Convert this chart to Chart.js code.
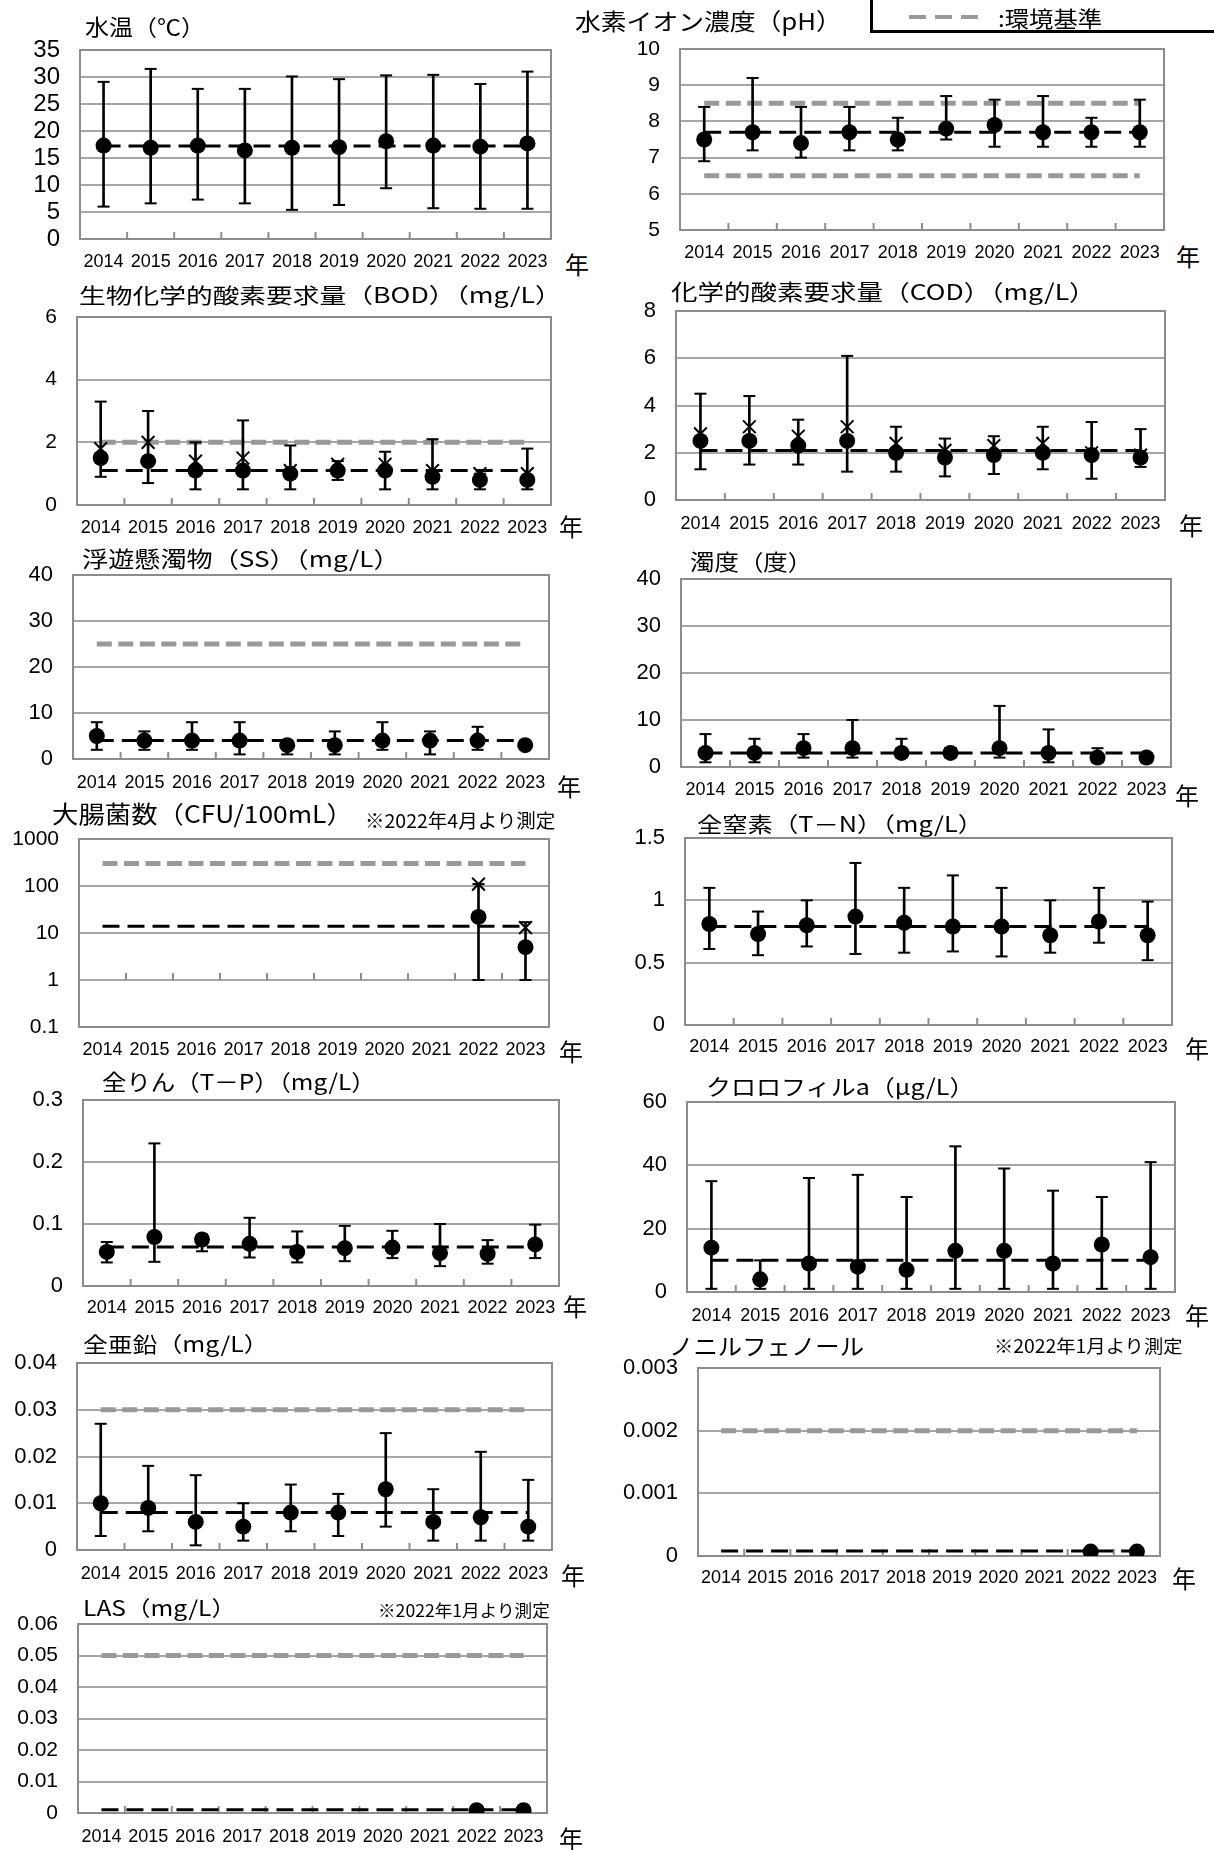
<!DOCTYPE html>
<html>
<head>
<meta charset="utf-8">
<script src="https://cdn.jsdelivr.net/npm/chart.js@4.4.1/dist/chart.umd.min.js"></script>
<style>
body { margin: 0; background: #fff; width: 1214px; height: 1850px; position: relative; overflow: hidden; font-family: "Noto Sans CJK JP", sans-serif; }
.t { position: absolute; white-space: nowrap; line-height: 1; color: #000; transform-origin: 0 50%; }
canvas { position: absolute; }
.legend { position: absolute; left: 870px; top: -36px; width: 360px; height: 69px; border: 3px solid #000; box-sizing: border-box; }
.dash { position: absolute; top: 15px; width: 17px; height: 4px; background: #999; }
</style>
</head>
<body>
<div class="legend"></div>
<div class="dash" style="left:909px"></div>
<div class="dash" style="left:935px"></div>
<div class="dash" style="left:961px"></div>
<script>
var years = ['2014', '2015', '2016', '2017', '2018', '2019', '2020', '2021', '2022', '2023'];

// 水温
var tempMean = [17.3, 16.9, 17.3, 16.4, 16.9, 17.0, 18.1, 17.3, 17.1, 17.7];
var tempMax = [29.1, 31.5, 27.8, 27.8, 30.1, 29.6, 30.3, 30.4, 28.7, 31.0];
var tempMin = [6.0, 6.6, 7.3, 6.6, 5.4, 6.3, 9.4, 5.7, 5.6, 5.6];
var tempAvg = 17.2;
var tempTicks = [0, 5, 10, 15, 20, 25, 30, 35];

// pH
var phMean = [7.5, 7.7, 7.4, 7.7, 7.5, 7.8, 7.9, 7.7, 7.7, 7.7];
var phMax = [8.4, 9.2, 8.4, 8.4, 8.1, 8.7, 8.6, 8.7, 8.1, 8.6];
var phMin = [6.9, 7.2, 7.0, 7.2, 7.2, 7.5, 7.3, 7.3, 7.3, 7.3];
var phAvg = 7.7;
var phStd = [8.5, 6.5];
var phTicks = [5, 6, 7, 8, 9, 10];

// BOD
var bodMean = [1.5, 1.4, 1.1, 1.1, 1.0, 1.1, 1.1, 0.9, 0.8, 0.8];
var bodMax = [3.3, 3.0, 2.0, 2.7, 1.9, 1.4, 1.7, 2.1, 1.0, 1.8];
var bodMin = [0.9, 0.7, 0.5, 0.5, 0.5, 0.8, 0.5, 0.5, 0.5, 0.5];
var bod75 = [1.8, 2.0, 1.4, 1.5, 1.1, 1.3, 1.3, 1.1, 1.0, 1.0];
var bodAvg = 1.1;
var bodStd = [2];
var bodTicks = [0, 2, 4, 6];

// COD
var codMean = [2.5, 2.5, 2.3, 2.5, 2.0, 1.8, 1.9, 2.0, 1.9, 1.8];
var codMax = [4.5, 4.4, 3.4, 6.1, 3.1, 2.6, 2.7, 3.1, 3.3, 3.0];
var codMin = [1.3, 1.5, 1.5, 1.2, 1.2, 1.0, 1.1, 1.3, 0.9, 1.4];
var cod75 = [2.8, 3.1, 2.7, 3.1, 2.4, 2.1, 2.3, 2.4, 2.0, 1.9];
var codAvg = 2.1;
var codTicks = [0, 2, 4, 6, 8];

// SS
var ssMean = [5, 4, 4, 4, 3, 3, 4, 4, 4, 3];
var ssMax = [8, 6, 8, 8, 4, 6, 8, 6, 7, 3];
var ssMin = [2, 2, 2, 1, 1, 1, 2, 1, 2, 3];
var ssAvg = 4;
var ssStd = [25];
var ssTicks = [0, 10, 20, 30, 40];

// 濁度
var turbMean = [3, 3, 4, 4, 3, 3, 4, 3, 2, 2];
var turbMax = [7, 6, 7, 10, 6, 4, 13, 8, 4, 3];
var turbMin = [1, 1, 2, 2, 2, 2, 2, 1, 1, 1];
var turbAvg = 3;
var turbTicks = [0, 10, 20, 30, 40];

// 大腸菌数
var ecoliMean = [null, null, null, null, null, null, null, null, 22, 5];
var ecoliMax = [null, null, null, null, null, null, null, null, 110, 17];
var ecoliMin = [null, null, null, null, null, null, null, null, 1, 1];
var ecoli75 = [null, null, null, null, null, null, null, null, 110, 13];
var ecoliAvg = 14;
var ecoliStd = [300];
var ecoliTicks = [0.1, 1, 10, 100, 1000];

// 全窒素
var tnMean = [0.81, 0.73, 0.80, 0.87, 0.82, 0.79, 0.79, 0.72, 0.83, 0.72];
var tnMax = [1.1, 0.91, 1.0, 1.3, 1.1, 1.2, 1.1, 1.0, 1.1, 0.99];
var tnMin = [0.61, 0.56, 0.63, 0.57, 0.58, 0.59, 0.55, 0.58, 0.66, 0.52];
var tnAvg = 0.79;
var tnTicks = [0, 0.5, 1, 1.5];

// 全りん
var tpMean = [0.055, 0.079, 0.075, 0.068, 0.055, 0.061, 0.062, 0.053, 0.052, 0.067];
var tpMax = [0.071, 0.23, 0.083, 0.11, 0.088, 0.097, 0.089, 0.10, 0.074, 0.099];
var tpMin = [0.038, 0.039, 0.056, 0.046, 0.038, 0.040, 0.045, 0.032, 0.036, 0.045];
var tpAvg = 0.063;
var tpTicks = [0, 0.1, 0.2, 0.3];

// クロロフィルa
var chlMean = [14, 4, 9, 8, 7, 13, 13, 9, 15, 11];
var chlMax = [35, 10, 36, 37, 30, 46, 39, 32, 30, 41];
var chlMin = [1, 1, 1, 1, 1, 1, 1, 1, 1, 1];
var chlAvg = 10;
var chlTicks = [0, 20, 40, 60];

// 全亜鉛
var znMean = [0.010, 0.009, 0.006, 0.005, 0.008, 0.008, 0.013, 0.006, 0.007, 0.005];
var znMax = [0.027, 0.018, 0.016, 0.010, 0.014, 0.012, 0.025, 0.013, 0.021, 0.015];
var znMin = [0.003, 0.004, 0.001, 0.002, 0.004, 0.003, 0.005, 0.002, 0.002, 0.002];
var znAvg = 0.008;
var znStd = [0.03];
var znTicks = [0, 0.01, 0.02, 0.03, 0.04];

// ノニルフェノール
var npMean = [null, null, null, null, null, null, null, null, 0.00007, 0.00007];
var npAvg = 0.00008;
var npStd = [0.002];
var npTicks = [0, 0.001, 0.002, 0.003];

// LAS
var lasMean = [null, null, null, null, null, null, null, null, 0.0009, 0.0009];
var lasAvg = 0.001;
var lasStd = [0.05];
var lasTicks = [0, 0.01, 0.02, 0.03, 0.04, 0.05, 0.06];

var LW = 95, TP = 40, RP = 10, BH = 45;
var numFont = 'Liberation Sans, Arial, sans-serif';

function fmt(v) {
    return String(parseFloat(Number(v).toPrecision(6)));
}

// gray frame around the plot and small ticks between the years
var framePlugin = {
    id: 'frame',
    beforeDatasetsDraw: function (chart, args, opts) {
        var a = chart.chartArea, ctx = chart.ctx, xs = chart.scales.x;
        ctx.save();
        ctx.strokeStyle = '#8c8c8c';
        ctx.lineWidth = 2;
        ctx.strokeRect(a.left, a.top, a.right - a.left, a.bottom - a.top);
        var ty = opts.tickAt != null ? chart.scales.y.getPixelForValue(opts.tickAt) : a.bottom;
        ctx.beginPath();
        for (var i = 1; i < years.length; i++) {
            var x = (xs.getPixelForValue(i - 1) + xs.getPixelForValue(i)) / 2;
            ctx.moveTo(x, ty);
            ctx.lineTo(x, ty - 7);
        }
        ctx.stroke();
        ctx.restore();
    }
};

// w = wanted ink width; a closing full-width bracket leaves empty space on its right
function text(s, x, y, size, w) {
    var d = document.createElement('div');
    d.className = 't';
    d.textContent = s;
    d.style.left = x + 'px';
    d.style.top = y + 'px';
    d.style.fontSize = size + 'px';
    document.body.appendChild(d);
    var tail = s.charAt(s.length - 1) === '）' ? size * 0.5 : 0;
    var k = w ? w / (d.offsetWidth - tail) : 1;
    d.style.transform = 'translateY(-50%) scaleX(' + k + ')';
}

function drawPanel(p) {
    var b = p.box;
    var cv = document.createElement('canvas');
    cv.width = b[2] - b[0] + LW + RP;
    cv.height = b[3] - b[1] + TP + BH;
    cv.style.left = (b[0] - LW) + 'px';
    cv.style.top = (b[1] - TP) + 'px';
    document.body.appendChild(cv);

    var datasets = [];
    datasets.push({ type: 'line', data: p.mean, showLine: false, pointRadius: 8,
        pointBackgroundColor: '#000', pointBorderWidth: 0, order: 1 });
    if (p.cross) {
        datasets.push({ type: 'line', data: p.cross, showLine: false, pointStyle: 'crossRot',
            pointRadius: 9, pointBorderColor: '#000', pointBorderWidth: 2, order: 2 });
    }
    if (p.max) {
        datasets.push({ type: 'line', data: p.max, showLine: false, pointStyle: 'line',
            pointRadius: 6, pointBorderColor: '#000', pointBorderWidth: 2, order: 3 });
        datasets.push({ type: 'line', data: p.min, showLine: false, pointStyle: 'line',
            pointRadius: 6, pointBorderColor: '#000', pointBorderWidth: 2, order: 3 });
        datasets.push({ type: 'bar', order: 4, backgroundColor: '#000', barThickness: 2,
            data: years.map(function (y, i) { return p.min[i] == null ? null : [p.min[i], p.max[i]]; }) });
    }
    datasets.push({ type: 'line', data: years.map(function () { return p.avg; }), borderColor: '#000',
        borderWidth: 3, borderDash: [17, 8], pointRadius: 0, order: 5 });
    (p.std || []).forEach(function (v) {
        datasets.push({ type: 'line', data: years.map(function () { return v; }), borderColor: '#999',
            borderWidth: 5, borderDash: [15, 6.5], pointRadius: 0, order: 6 });
    });

    var pad = { top: TP, right: RP, left: 0, bottom: 0 };
    var chart = new Chart(cv.getContext('2d'), {
        type: 'bar',
        data: { labels: years, datasets: datasets },
        options: {
            responsive: false,
            animation: false,
            events: [],
            layout: { padding: pad, autoPadding: false },
            plugins: { legend: { display: false }, tooltip: { enabled: false }, frame: { tickAt: p.tickAt } },
            scales: {
                x: {
                    offset: true,
                    grid: { display: false },
                    border: { display: false },
                    ticks: { font: { family: numFont, size: 18 }, color: '#000', padding: Math.max(0, p.labelY - b[3] - 18),
                        autoSkip: false, maxRotation: 0 },
                    afterFit: function (s) { s.height = BH; }
                },
                y: {
                    type: p.log ? 'logarithmic' : 'linear',
                    min: p.ticks[0],
                    max: p.ticks[p.ticks.length - 1],
                    grid: { color: '#a6a6a6', lineWidth: 2, drawTicks: false },
                    border: { display: false },
                    ticks: { font: { family: numFont, size: p.yFont }, color: '#000', padding: 20,
                        autoSkip: false, callback: fmt },
                    afterBuildTicks: function (s) { s.ticks = p.ticks.map(function (v) { return { value: v }; }); },
                    afterFit: function (s) { s.width = LW; }
                }
            }
        },
        plugins: [framePlugin]
    });
    // nudge the padding so the plot area lands on the box
    var ca = chart.chartArea;
    if (ca.top !== TP || ca.bottom !== cv.height - BH) {
        pad.top += TP - ca.top;
        pad.bottom += ca.bottom - (cv.height - BH);
        chart.update();
    }
    text('年', p.nen[0], p.nen[1], 24);
}

var panels = [
    { box: [80, 50, 551, 239], mean: tempMean, max: tempMax, min: tempMin, avg: tempAvg, ticks: tempTicks, yFont: 24, labelY: 261, nen: [565, 264] },
    { box: [680, 49, 1164, 230], mean: phMean, max: phMax, min: phMin, avg: phAvg, std: phStd, ticks: phTicks, yFont: 21, labelY: 252, nen: [1176, 256] },
    { box: [77, 317, 551, 505], mean: bodMean, max: bodMax, min: bodMin, cross: bod75, avg: bodAvg, std: bodStd, ticks: bodTicks, yFont: 21, labelY: 527, nen: [559, 526] },
    { box: [676, 311, 1165, 500], mean: codMean, max: codMax, min: codMin, cross: cod75, avg: codAvg, ticks: codTicks, yFont: 22, labelY: 523, nen: [1179, 525] },
    { box: [73, 575, 549, 759], mean: ssMean, max: ssMax, min: ssMin, avg: ssAvg, std: ssStd, ticks: ssTicks, yFont: 22, labelY: 782, nen: [557, 786] },
    { box: [681, 579, 1171, 767], mean: turbMean, max: turbMax, min: turbMin, avg: turbAvg, ticks: turbTicks, yFont: 22, labelY: 789, nen: [1175, 795] },
    { box: [79, 839, 549, 1027], mean: ecoliMean, max: ecoliMax, min: ecoliMin, cross: ecoli75, avg: ecoliAvg, std: ecoliStd, ticks: ecoliTicks, log: true, tickAt: 1, yFont: 21, labelY: 1049, nen: [559, 1051] },
    { box: [685, 838, 1172, 1025], mean: tnMean, max: tnMax, min: tnMin, avg: tnAvg, ticks: tnTicks, yFont: 22, labelY: 1046, nen: [1185, 1048] },
    { box: [83, 1100, 559, 1286], mean: tpMean, max: tpMax, min: tpMin, avg: tpAvg, ticks: tpTicks, yFont: 22, labelY: 1307, nen: [563, 1306] },
    { box: [687, 1102, 1175, 1292], mean: chlMean, max: chlMax, min: chlMin, avg: chlAvg, ticks: chlTicks, yFont: 22, labelY: 1315, nen: [1185, 1315] },
    { box: [77, 1363, 552, 1550], mean: znMean, max: znMax, min: znMin, avg: znAvg, std: znStd, ticks: znTicks, yFont: 22, labelY: 1573, nen: [561, 1575] },
    { box: [698, 1368, 1160, 1556], mean: npMean, avg: npAvg, std: npStd, ticks: npTicks, yFont: 22, labelY: 1577, nen: [1172, 1578] },
    { box: [78, 1624, 547, 1813], mean: lasMean, avg: lasAvg, std: lasStd, ticks: lasTicks, yFont: 21, labelY: 1836, nen: [559, 1838] }
];
panels.forEach(drawPanel);

text('水温（℃）', 85, 25, 22, 108);
text('水素イオン濃度（pH）', 575, 20, 23, 254);
text('生物化学的酸素要求量（BOD）（mg/L）', 79, 294, 21, 469);
text('化学的酸素要求量（COD）（mg/L）', 671, 290, 22, 411);
text('浮遊懸濁物（SS）（mg/L）', 82, 557, 22, 304);
text('濁度（度）', 690, 560, 22, 110);
text('大腸菌数（CFU/100mL）', 52, 813, 24, 288);
text('※2022年4月より測定', 365, 819, 19, 190);
text('全窒素（T－N）（mg/L）', 697, 823, 21, 273);
text('全りん（T－P）（mg/L）', 102, 1080, 22, 262);
text('クロロフィルa（μg/L）', 706, 1085, 22, 256);
text('全亜鉛（mg/L）', 83, 1343, 21, 173);
text('ノニルフェノール', 669, 1345, 23, 195);
text('※2022年1月より測定', 994, 1345, 18, 189);
text('LAS（mg/L）', 83, 1607, 21, 141);
text('※2022年1月より測定', 378, 1609, 17, 172);
text(':環境基準', 998, 17, 22, 104);
</script>
</body>
</html>
